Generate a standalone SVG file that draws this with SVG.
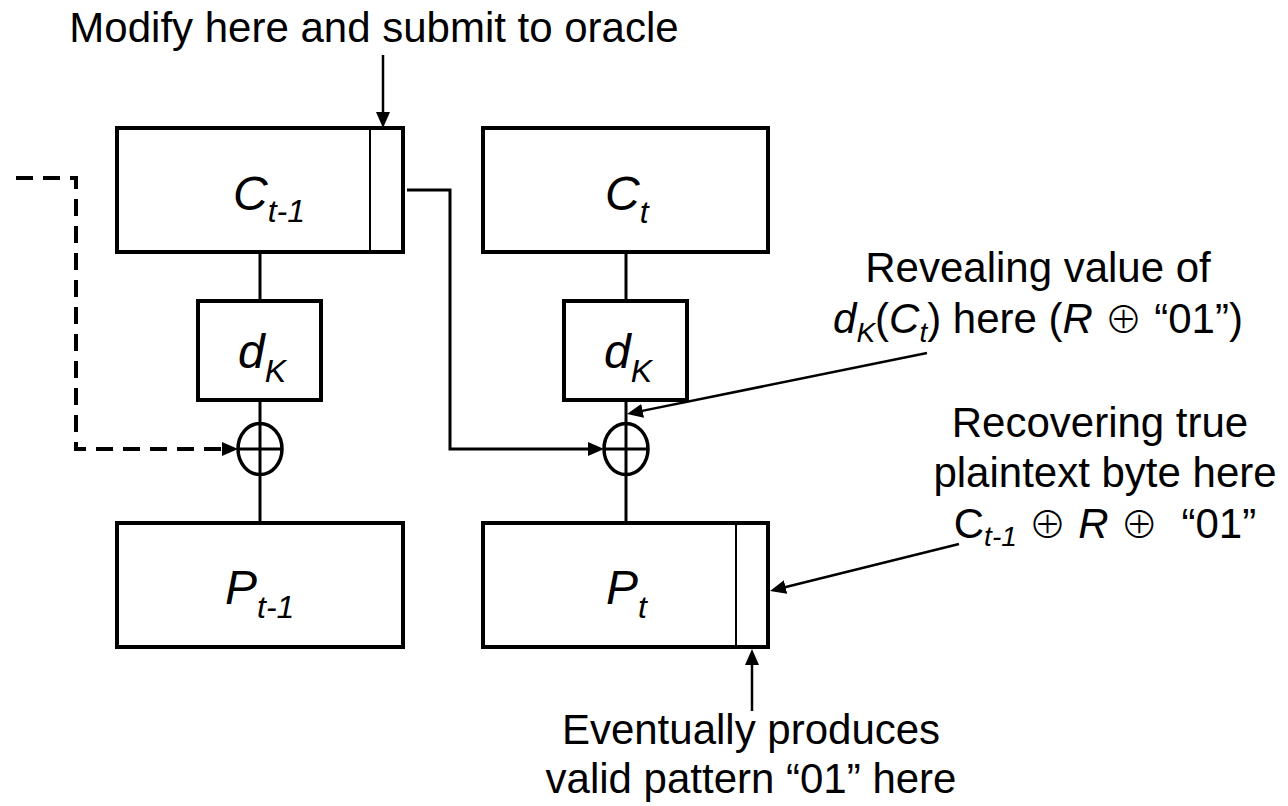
<svg xmlns="http://www.w3.org/2000/svg" width="1288" height="806" viewBox="0 0 1288 806">
  <style>
    .box { fill: #fff; stroke: #000; stroke-width: 4; }
    .div { stroke: #000; stroke-width: 2; }
    .ln { fill: none; stroke: #000; stroke-width: 3; }
    .dash { fill: none; stroke: #000; stroke-width: 4; stroke-dasharray: 17 10; }
    .lead { fill: none; stroke: #000; stroke-width: 2.5; }
    .xor { fill: #fff; stroke: #000; stroke-width: 3.5; }
    .lbl { font-family: "Liberation Sans", Arial, sans-serif; font-style: italic; font-size: 48px; fill: #000; }
    .sub { font-size: 32px; }
    .note { font-family: "Liberation Sans", Arial, "DejaVu Sans", sans-serif; font-size: 42px; fill: #000; white-space: pre; }
    .it { font-style: italic; }
    .ns { font-size: 28px; font-style: italic; }
    .op { font-family: "Noto Sans CJK JP", "DejaVu Sans", sans-serif; font-weight: 300; font-size: 38px; }
  </style>
  <defs>
    <marker id="arr" markerUnits="userSpaceOnUse" markerWidth="16" markerHeight="14" viewBox="0 0 16 14" refX="8" refY="7" orient="auto">
      <path d="M0,0 L16,7 L0,14 z" fill="#000"/>
    </marker>
  </defs>

  <g id="connectors">
    <line class="ln" x1="260" y1="252" x2="260" y2="301"/>
    <line class="ln" x1="260" y1="400" x2="260" y2="523"/>
    <line class="ln" x1="626" y1="252" x2="626" y2="301"/>
    <line class="ln" x1="626" y1="400" x2="626" y2="523"/>
    <path class="ln" d="M407,190 H450 V449 H596" marker-end="url(#arr)"/>
    <path class="dash" d="M16,178 H76 V449 H230" marker-end="url(#arr)"/>
    <path class="lead" d="M383,55 V120" marker-end="url(#arr)"/>
    <path class="lead" d="M927,353 L634.8,412.4" marker-end="url(#arr)"/>
    <path class="lead" d="M959,544 L777.8,589" marker-end="url(#arr)"/>
    <path class="lead" d="M752,711 V657" marker-end="url(#arr)"/>
  </g>

  <g id="node-c-prev">
    <rect class="box" x="117" y="128" width="286" height="124"/>
    <line class="div" x1="370" y1="128" x2="370" y2="252"/>
    <text class="lbl" x="233" y="210">C<tspan class="sub" dy="12">t-1</tspan></text>
  </g>
  <g id="node-c-t">
    <rect class="box" x="483" y="128" width="285" height="124"/>
    <text class="lbl" x="605" y="210">C<tspan class="sub" dy="13">t</tspan></text>
  </g>
  <g id="node-dk1">
    <rect class="box" x="198" y="301" width="123" height="99"/>
    <text class="lbl" x="238" y="368">d<tspan class="sub" dy="14">K</tspan></text>
  </g>
  <g id="node-dk2">
    <rect class="box" x="564" y="301" width="123" height="99"/>
    <text class="lbl" x="604" y="368">d<tspan class="sub" dy="14">K</tspan></text>
  </g>
  <g id="node-xor1">
    <ellipse class="xor" cx="260" cy="449" rx="22" ry="25.5"/>
    <line class="ln" x1="260" y1="423.5" x2="260" y2="474.5"/>
    <line class="ln" x1="238" y1="449" x2="282" y2="449"/>
  </g>
  <g id="node-xor2">
    <ellipse class="xor" cx="626" cy="449" rx="22" ry="25.5"/>
    <line class="ln" x1="626" y1="423.5" x2="626" y2="474.5"/>
    <line class="ln" x1="604" y1="449" x2="648" y2="449"/>
  </g>
  <g id="node-p-prev">
    <rect class="box" x="117" y="523" width="286" height="124"/>
    <text class="lbl" x="225" y="604">P<tspan class="sub" dy="14">t-1</tspan></text>
  </g>
  <g id="node-p-t">
    <rect class="box" x="483" y="523" width="285" height="124"/>
    <line class="div" x1="736" y1="523" x2="736" y2="647"/>
    <text class="lbl" x="606" y="604">P<tspan class="sub" dy="14">t</tspan></text>
  </g>

  <g id="label-modify">
    <text class="note" x="374" y="42" text-anchor="middle">Modify here and submit to oracle</text>
  </g>
  <g id="label-revealing">
    <text class="note" x="1038" y="282" text-anchor="middle">Revealing value of</text>
    <text class="note" x="1038" y="333" text-anchor="middle"><tspan class="it">d</tspan><tspan class="ns" dy="9">K</tspan><tspan dy="-9">(</tspan><tspan class="it">C</tspan><tspan class="ns" dy="9">t</tspan><tspan dy="-9">) here (</tspan><tspan class="it">R</tspan> <tspan class="op">⊕</tspan> “01”)</text>
  </g>
  <g id="label-recovering">
    <text class="note" x="1100" y="437" text-anchor="middle">Recovering true</text>
    <text class="note" x="1105" y="487" text-anchor="middle">plaintext byte here</text>
    <text class="note" x="1105" y="538" text-anchor="middle">C<tspan class="ns" dy="8">t-1</tspan><tspan dy="-8"> </tspan><tspan class="op">⊕</tspan> <tspan class="it">R</tspan> <tspan class="op">⊕</tspan>  “01”</text>
  </g>
  <g id="label-eventually">
    <text class="note" x="751" y="744" text-anchor="middle">Eventually produces</text>
    <text class="note" x="751" y="793" text-anchor="middle">valid pattern “01” here</text>
  </g>
</svg>
